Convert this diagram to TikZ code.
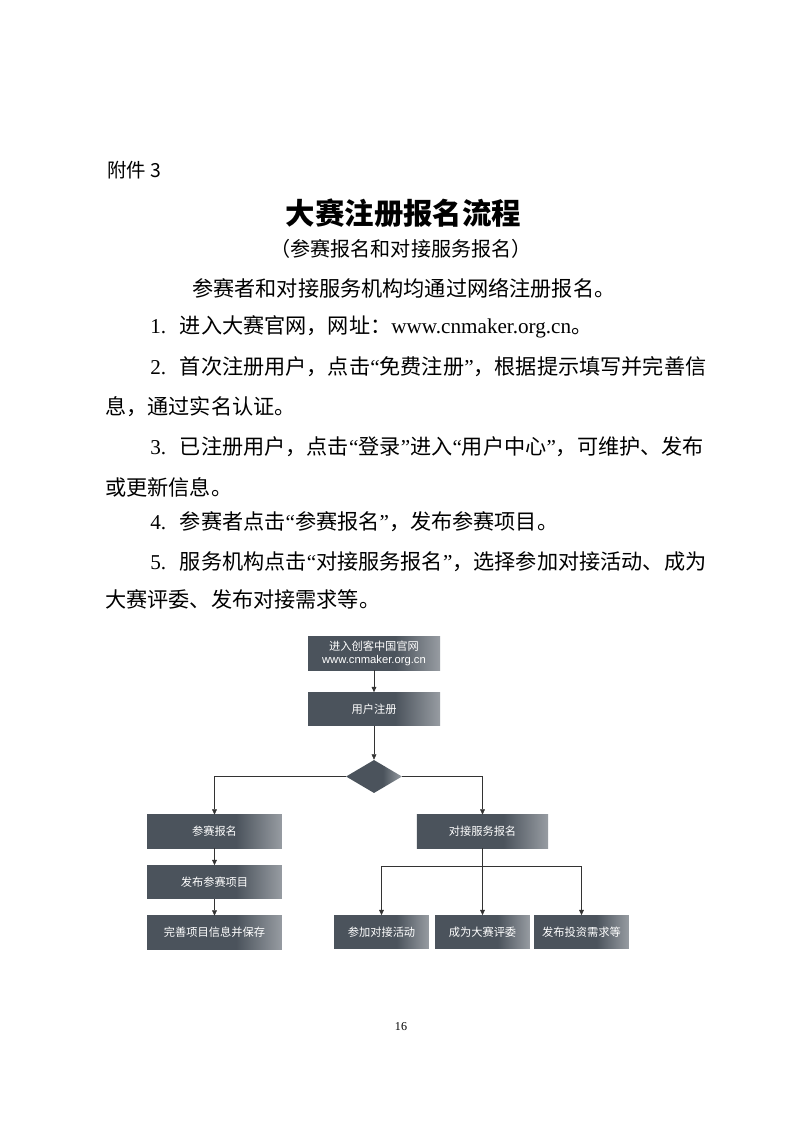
\documentclass[tikz,border=0pt]{standalone}
\usepackage{fontspec}
\setmainfont{Liberation Serif}
\newfontfamily\cjk{Noto Sans CJK SC}
\newfontfamily\arialfont{Liberation Sans}
\usetikzlibrary{shapes.geometric,arrows.meta}

\definecolor{boxdark}{HTML}{4B535C}
\definecolor{boxlight}{HTML}{979CA2}
\pgfdeclarehorizontalshading{boxgrad}{100bp}{color(0bp)=(boxdark); color(25bp)=(boxdark); color(58bp)=(boxdark); color(75bp)=(boxlight); color(100bp)=(boxlight)}
\newcommand\lat[1]{{\rmfamily #1}}
\newcommand\oq{{\rmfamily “}}
\newcommand\cq{{\rmfamily ”}}

\begin{document}
\begin{tikzpicture}[
x=0.2625mm, y=-0.2625mm,
body/.style={
    anchor=west,
    inner sep=0pt,
    font=\cjk\fontsize{15.8}{19}\selectfont
    },
fbox/.style={
    rectangle,
    shade,
    shading=boxgrad,
    text=white,
    inner sep=1pt,
    minimum height=8.7mm,
    font=\cjk\fontsize{8.4}{9.4}\selectfont,
    align=center
    },
dia/.style={
    diamond,
    shade,
    shading=boxgrad,
    inner sep=0pt,
    aspect=1.7,
    minimum width=14.7mm,
    minimum height=8.7mm
    },
line/.style={draw=black!80, thin},
arr/.style={line, -{Triangle[length=4pt,width=3.6pt]}},
]
\fill[white] (0,0) rectangle (800,1131);
\useasboundingbox (0,0) rectangle (800,1131);

% heading and text
\node[anchor=west, inner sep=0pt, font=\cjk\fontsize{14.5}{17}\selectfont] (annex) at (107,170) {附件 3};
\node[inner sep=0pt, font=\cjk\bfseries\fontsize{22}{26}\selectfont] (title) at (403.5,213) {大赛注册报名流程};
\node[inner sep=0pt, font=\cjk\fontsize{15}{18}\selectfont] (sub) at (401,249) {（参赛报名和对接服务报名）};
\node[body] (l0) at (192,288) {参赛者和对接服务机构均通过网络注册报名。};
\node[body] (l1) at (150,327) {\lat{1.}\hspace{0.65em}进入大赛官网，网址：\lat{www.cnmaker.org.cn}。};
\node[body] (l2) at (150,367) {\lat{2.}\hspace{0.65em}首次注册用户，点击\oq 免费注册\cq ，根据提示填写并完善信};
\node[body] (l2b) at (105,407) {息，通过实名认证。};
\node[body] (l3) at (150,447) {\lat{3.}\hspace{0.65em}已注册用户，点击\oq 登录\cq 进入\oq 用户中心\cq ，可维护、发布};
\node[body] (l3b) at (105,487) {或更新信息。};
\node[body] (l4) at (150,522) {\lat{4.}\hspace{0.65em}参赛者点击\oq 参赛报名\cq ，发布参赛项目。};
\node[body] (l5) at (150,562) {\lat{5.}\hspace{0.65em}服务机构点击\oq 对接服务报名\cq ，选择参加对接活动、成为};
\node[body] (l5b) at (105,599) {大赛评委、发布对接需求等。};

% flow chart
\node[fbox, minimum width=34.65mm] (web) at (374,653.5) {进入创客中国官网\\{\arialfont www.cnmaker.org.cn}};
\node[fbox, minimum width=34.65mm] (reg) at (374,709) {用户注册};
\node[dia] (chk) at (374,776.5) {};
\node[fbox, minimum width=35.4mm] (join) at (214.5,831.5) {参赛报名};
\node[fbox, minimum width=35.4mm] (post) at (214.5,882) {发布参赛项目};
\node[fbox, minimum width=35.4mm] (info) at (214.5,932.5) {完善项目信息并保存};
\node[fbox, minimum width=34.4mm] (svc) at (482.5,831.5) {对接服务报名};
\node[fbox, minimum width=24.9mm] (act) at (381.5,932) {参加对接活动};
\node[fbox, minimum width=24.9mm] (judge) at (482.5,932) {成为大赛评委};
\node[fbox, minimum width=24.9mm] (need) at (581.5,932) {发布投资需求等};
\coordinate (fork) at (482.5,866);

\draw[arr] (web) -- (reg);
\draw[arr] (reg) -- (chk);
\draw[arr] (chk.west) -| (join);
\draw[arr] (chk.east) -| (svc);
\draw[arr] (join) -- (post);
\draw[arr] (post) -- (info);
\draw[line] (svc) -- (fork);
\draw[arr] (fork) -| (act);
\draw[arr] (fork) -- (judge);
\draw[arr] (fork) -| (need);

\node[inner sep=0pt, font=\fontsize{9}{11}\selectfont] (page) at (401,1027) {16};
\end{tikzpicture}
\end{document}
